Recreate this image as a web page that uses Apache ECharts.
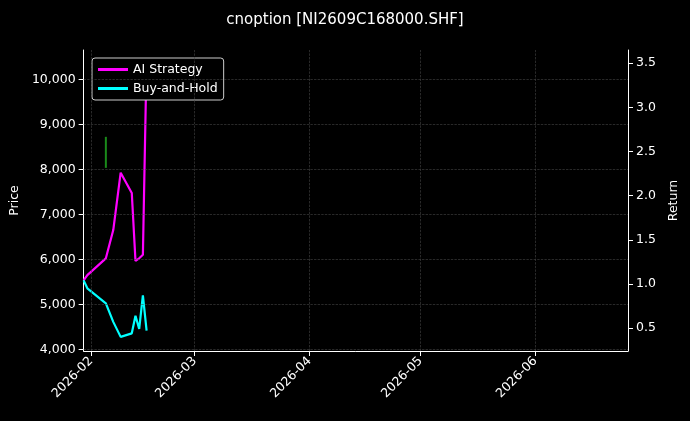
<!DOCTYPE html>
<html><head><meta charset="utf-8">
<script src="https://cdn.jsdelivr.net/npm/echarts@6/dist/echarts.min.js"></script>
<style>body{margin:0;background:#000}#c{width:690px;height:421px}</style>
</head><body><div id="c"></div>
<script>
  // 日期与收益数据
  var dates = ['2026-01-30', '2026-01-31', '2026-02-05', '2026-02-07', '2026-02-09', '2026-02-12', '2026-02-13', '2026-02-14', '2026-02-15', '2026-02-16']
  var aiReturn = [1.04, 1.10, 1.29, 1.61, 2.26, 2.03, 1.26, 1.29, 1.33, 3.55]
  var holdReturn = [1.04, 0.95, 0.78, 0.57, 0.40, 0.44, 0.64, 0.49, 0.87, 0.47]
  var barDates = ['2026-02-05', '2026-02-05']
  var barPrice = [8040, 8730]
  var monthTicks = ['2026-02-01', '2026-03-01', '2026-04-01', '2026-05-01', '2026-06-01']
  var priceTicks = [4000, 5000, 6000, 7000, 8000, 9000, 10000]
  var returnTicks = [0.5, 1, 1.5, 2, 2.5, 3, 3.5]

  var myChart = echarts.init(document.getElementById('c'))
  var font = 'DejaVu Sans'

  function ts(s) { return Date.parse(s + 'T00:00:00Z') }
  function pairs(xs, ys) {
      return xs.map(function(d, i) { return [ts(d), ys[i]] })
  }
  var monthVals = monthTicks.map(ts)
  var grid = { show: true, lineStyle: { color: '#444', type: 'dashed', width: 0.6 } }

  var option = {
      backgroundColor: '#000',
      textStyle: { fontFamily: font },
      title: {
          text: 'cnoption [NI2609C168000.SHF]',
          left: 'center', top: 8,
          textStyle: { color: '#fff', fontSize: 15, fontWeight: 'normal', fontFamily: font }
      },
      legend: {
          left: 92, top: 58, orient: 'vertical', itemGap: 6,
          borderColor: '#ccc', borderWidth: 1, borderRadius: 3, padding: [5, 6],
          backgroundColor: '#000',
          itemWidth: 30, itemHeight: 3,
          textStyle: { color: '#fff', fontSize: 12.5 },
          data: [{ name: 'AI Strategy', icon: 'rect' }, { name: 'Buy-and-Hold', icon: 'rect' }]
      },
      grid: { left: 83, right: 62, top: 50, bottom: 70 },
      xAxis: {
          type: 'value',
          min: ts('2026-01-30'), max: ts('2026-06-26'),
          axisLine: { lineStyle: { color: '#fff' } },
          axisTick: { show: true, customValues: monthVals, lineStyle: { color: '#fff' } },
          axisLabel: {
              color: '#fff', fontSize: 12.5, rotate: 45,
              customValues: monthVals,
              formatter: function(v) {
                  var d = new Date(v)
                  return d.getUTCFullYear() + '-' + ('0' + (d.getUTCMonth() + 1)).slice(-2)
              }
          },
          splitLine: { show: false }
      },
      yAxis: [{
          type: 'value', name: 'Price', nameLocation: 'middle', nameGap: 55,
          nameTextStyle: { color: '#fff', fontSize: 12.5 },
          min: 3970, max: 10660,
          axisLine: { show: true, lineStyle: { color: '#fff' } },
          axisTick: { show: true, customValues: priceTicks },
          axisLabel: { color: '#fff', fontSize: 12.5, customValues: priceTicks },
          splitLine: { show: false }
      }, {
          type: 'value', name: 'Return', nameLocation: 'middle', nameGap: 38,
          nameTextStyle: { color: '#fff', fontSize: 12.5 },
          min: 0.24, max: 3.65,
          axisLine: { show: true, lineStyle: { color: '#fff' } },
          axisTick: { show: true, customValues: returnTicks },
          axisLabel: {
              color: '#fff', fontSize: 12.5, customValues: returnTicks,
              formatter: function(v) { return v.toFixed(1) }
          },
          splitLine: { show: false }
      }],
      series: [{
          name: 'grid', type: 'line', yAxisIndex: 0, symbol: 'none', silent: true, data: [],
          markLine: {
              silent: true, symbol: 'none', label: { show: false },
              lineStyle: { color: '#444', type: 'dashed', width: 0.6 },
              data: monthVals.map(function(v) { return { xAxis: v } })
                  .concat(priceTicks.map(function(v) { return { yAxis: v } }))
          }
      }, {
          name: 'bar', type: 'line', yAxisIndex: 0, symbol: 'none', silent: true,
          lineStyle: { color: '#1a8a1a', width: 2 },
          data: pairs(barDates, barPrice)
      }, {
          name: 'AI Strategy', type: 'line', yAxisIndex: 1, symbol: 'none',
          color: '#ff00ff', lineStyle: { width: 2.2 },
          data: pairs(dates, aiReturn)
      }, {
          name: 'Buy-and-Hold', type: 'line', yAxisIndex: 1, symbol: 'none',
          color: '#00ffff', lineStyle: { width: 2.2 },
          data: pairs(dates, holdReturn)
      }]
  }
  myChart.setOption(option)
</script>
</body></html>
